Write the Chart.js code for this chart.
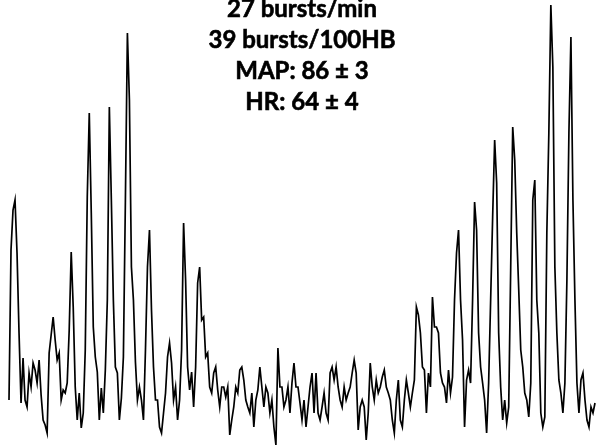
<!DOCTYPE html>
<html>
<head>
<meta charset="utf-8">
<script src="https://cdn.jsdelivr.net/npm/chart.js@4/dist/chart.umd.min.js"></script>
<style>
  html, body { margin: 0; padding: 0; background: #fff; }
  #wrap { width: 596px; height: 447px; position: relative; }
</style>
</head>
<body>
<div id="wrap"><canvas id="msna"></canvas></div>
<script>
// integrated nerve activity, arbitrary units, one sample per step
const msna = [
  47, 197, 237, 247, 194, 114, 44, 89, 47, 40, 74, 60, 84, 77, 64, 87, 52, 27, 22, 14,
  94, 112, 130, 107, 87, 94, 47, 57, 54, 64, 117, 195, 140, 60, 27, 54, 19, 34, 97, 250,
  334, 234, 120, 90, 75, 27, 59, 34, 77, 147, 340, 247, 147, 80, 74, 27, 49, 90, 247, 414,
  347, 180, 147, 85, 47, 60, 47, 27, 97, 180, 217, 137, 80, 47, 47, 20, 14, 34, 54, 90,
  104, 84, 47, 60, 27, 47, 97, 224, 167, 80, 57, 75, 40, 80, 164, 180, 127, 130, 90, 94,
  60, 54, 74, 80, 57, 40, 60, 60, 50, 60, 12, 27, 40, 60, 54, 77, 80, 67, 47, 40,
  34, 54, 20, 47, 57, 80, 60, 40, 60, 54, 34, 47, 20, 2, 99, 60, 60, 40, 47, 60,
  34, 64, 84, 60, 60, 44, 27, 47, 20, 40, 60, 74, 34, 74, 34, 27, 40, 54, 34, 27,
  74, 80, 67, 80, 60, 47, 40, 60, 47, 54, 60, 74, 87, 74, 17, 40, 47, 40, 7, 34,
  84, 60, 47, 67, 54, 60, 70, 77, 60, 54, 47, 27, 14, 47, 67, 27, 20, 47, 67, 54,
  40, 54, 67, 140, 132, 114, 80, 77, 34, 74, 60, 150, 120, 120, 114, 74, 64, 60, 44, 77,
  54, 70, 147, 194, 217, 147, 107, 20, 67, 77, 64, 147, 245, 217, 114, 80, 64, 47, 14, 64,
  147, 230, 307, 264, 114, 60, 27, 47, 24, 40, 180, 320, 287, 214, 157, 97, 80, 54, 47, 30,
  64, 247, 267, 147, 114, 34, 20, 30, 214, 314, 442, 380, 180, 114, 67, 54, 34, 64, 167, 314,
  410, 247, 147, 64, 34, 67, 74, 47, 27, 20, 40, 34, 44
];
const samples = msna.map((_, i) => i);

const summaryLines = [
  '27 bursts/min',
  '39 bursts/100HB',
  'MAP: 86 \u00b1 3',
  'HR: 64 \u00b1 4'
];

// summary text sits over the trace, centred above the quiet stretch
const summaryText = {
  id: 'summaryText',
  afterDraw(chart) {
    const ctx = chart.ctx;
    ctx.save();
    ctx.fillStyle = '#000';
    ctx.strokeStyle = '#000';
    ctx.lineWidth = 0.6;
    ctx.font = 'bold 24px Lato, "Open Sans", sans-serif';
    ctx.textAlign = 'center';
    ctx.textBaseline = 'alphabetic';
    summaryLines.forEach((line, i) => {
      ctx.fillText(line, 302, 17 + i * 31);
      ctx.strokeText(line, 302, 17 + i * 31);
    });
    ctx.restore();
  }
};

new Chart(document.getElementById('msna'), {
  type: 'line',
  data: {
    labels: samples,
    datasets: [{
      data: msna,
      borderColor: '#000',
      borderWidth: 1.7,
      pointRadius: 0,
      tension: 0,
      fill: false,
      clip: false
    }]
  },
  options: {
    responsive: true,
    maintainAspectRatio: false,
    animation: false,
    layout: { padding: { left: 9, right: 1, top: 0, bottom: 0 } },
    plugins: {
      legend: { display: false },
      tooltip: { enabled: false },
      title: { display: false }
    },
    scales: {
      x: { display: false, offset: false },
      y: { display: false, min: 0, max: 447 }
    }
  },
  plugins: [summaryText]
});
</script>
</body>
</html>
